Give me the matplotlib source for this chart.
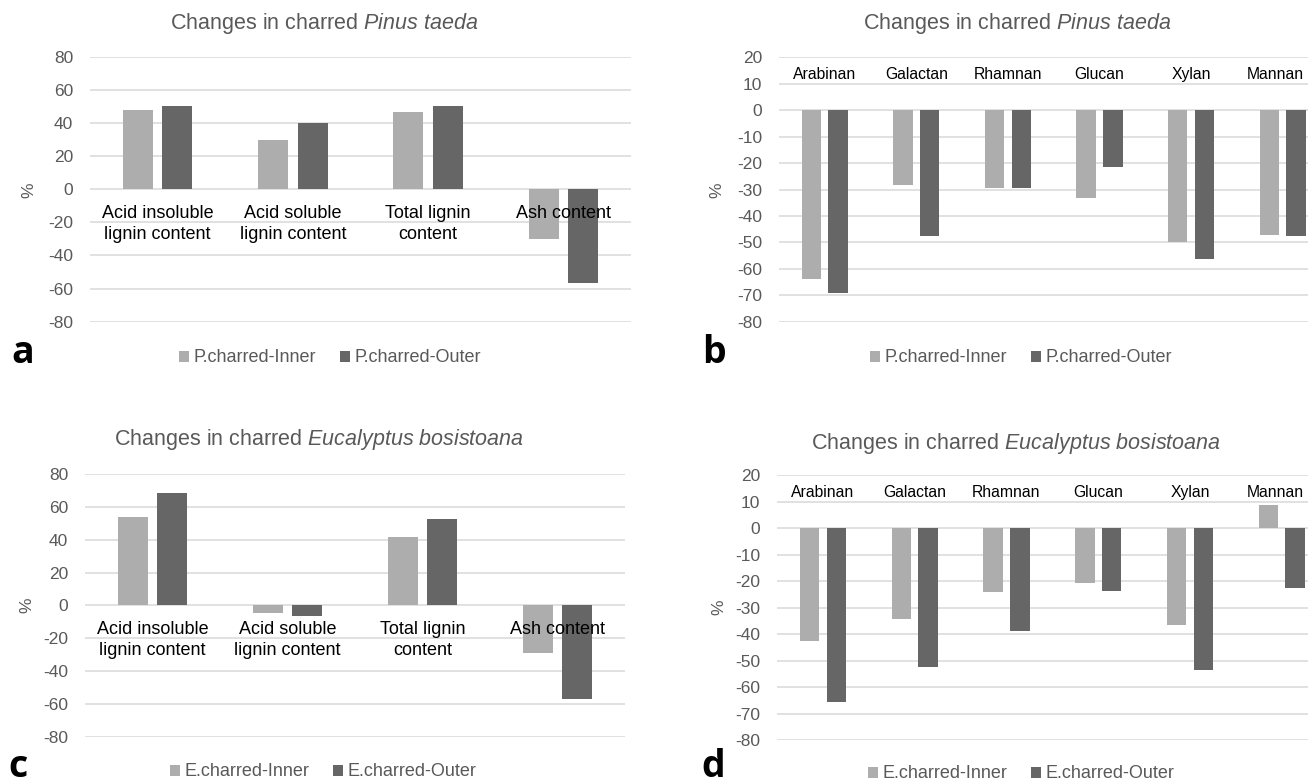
import matplotlib
matplotlib.use('Agg')
import matplotlib.pyplot as plt
import numpy as np

plt.rcParams['font.family'] = ['Liberation Sans', 'DejaVu Sans']
plt.rcParams['mathtext.fontset'] = 'custom'
plt.rcParams['mathtext.rm'] = 'Liberation Sans'
plt.rcParams['mathtext.it'] = 'Liberation Sans:italic'
plt.rcParams['axes.unicode_minus'] = False

# ---------------- data ----------------
lignin_cats = ["Acid insoluble\nlignin content", "Acid soluble\nlignin content",
               "Total lignin\ncontent", "Ash content"]
p_inner_lignin = [48.0, 29.5, 46.5, -30.3]
p_outer_lignin = [50.5, 40.0, 50.0, -56.5]
e_inner_lignin = [53.6, -4.4, 41.4, -28.8]
e_outer_lignin = [68.3, -6.4, 52.3, -57.3]

sugar_cats = ["Arabinan", "Galactan", "Rhamnan", "Glucan", "Xylan", "Mannan"]
p_inner_sugar = [-63.8, -28.3, -29.3, -33.1, -49.7, -47.1]
p_outer_sugar = [-69.3, -47.5, -29.3, -21.5, -56.4, -47.5]
e_inner_sugar = [-42.6, -34.2, -24.0, -20.8, -36.4, 8.6]
e_outer_sugar = [-65.6, -52.3, -39.0, -23.8, -53.5, -22.7]

p_names = ["P.charred-Inner", "P.charred-Outer"]
e_names = ["E.charred-Inner", "E.charred-Outer"]
title_p = r"Changes in charred $\mathit{Pinus\ taeda}$"
title_e = r"Changes in charred $\mathit{Eucalyptus\ bosistoana}$"

# ---------------- style ----------------
W, H = 1308, 784
INNER = '#ADADAD'
OUTER = '#666666'
GRID = '#D9D9D9'
GRAY = '#595959'

fig = plt.figure(figsize=(W / 100, H / 100), dpi=100)
fig.patch.set_facecolor('white')
renderer = fig.canvas.get_renderer()


def rect(x0, x1, y0, y1):
    return [x0 / W, 1 - y1 / H, (x1 - x0) / W, (y1 - y0) / H]


def panel(r, cats, inner, outer, ylim, ystep, width, names, title, title_xy,
          legend_xy, letter, letter_xy, pct_xy, top_labels):
    ax = fig.add_axes(r)
    x = np.arange(len(cats))
    off = 0.146
    b1 = ax.bar(x - off, inner, width, color=INNER, zorder=2)
    b2 = ax.bar(x + off, outer, width, color=OUTER, zorder=2)
    ax.set_xlim(-0.5, len(cats) - 0.5)
    ax.set_ylim(*ylim)
    ax.set_yticks(np.arange(ylim[0], ylim[1] + 1, ystep))
    ax.yaxis.grid(True, color=GRID, lw=1.1)
    ax.set_axisbelow(True)
    for s in ax.spines.values():
        s.set_visible(False)
    ax.set_xticks([])
    ax.tick_params(axis='y', length=0, pad=12, labelsize=12.5, labelcolor=GRAY)
    if top_labels:
        for i, c in enumerate(cats):
            t = ax.annotate(c, (i, 13.5), xytext=(0, 0), textcoords='offset points',
                            ha='center', va='center', fontsize=11.3,
                            color='black', zorder=5)
            # keep the label inside the figure, as the original chart does
            bb = t.get_window_extent(renderer)
            over = bb.x1 - (W - 4)
            if over > 0:
                t.set_position((0, -over * 72 / 100))
                t.xyann = (-over * 72 / 100, 0)
    else:
        for i, c in enumerate(cats):
            ax.annotate(c, (i, 0), xytext=(0, -11.5), textcoords='offset points',
                        ha='center', va='top', fontsize=13, color='black',
                        zorder=5, linespacing=1.3)
    fig.text(title_xy[0] / W, 1 - title_xy[1] / H, title, ha='center',
             va='center', fontsize=15.5, color=GRAY)
    ax.legend([b1, b2], names, loc='center',
              bbox_to_anchor=(legend_xy[0] / W, 1 - legend_xy[1] / H),
              bbox_transform=fig.transFigure, ncol=2, frameon=False,
              fontsize=13, handlelength=0.55, handleheight=0.55,
              handletextpad=0.25, columnspacing=1.3, labelcolor=GRAY)
    fig.text(letter_xy[0] / W, 1 - letter_xy[1] / H, letter, fontsize=27,
             fontweight='bold', family='Open Sans', ha='left', va='baseline')
    fig.text(pct_xy[0] / W, 1 - pct_xy[1] / H, '%', rotation=90, ha='center',
             va='center', fontsize=12.5, color=GRAY)
    return ax


panel(rect(90, 631, 56.7, 321.7), lignin_cats, p_inner_lignin, p_outer_lignin,
      (-80, 80), 20, 0.222, p_names, title_p, (324, 24), (330, 358), 'a',
      (11, 363), (29, 190), False)
panel(rect(778.9, 1328.5, 57.3, 321.7), sugar_cats, p_inner_sugar, p_outer_sugar,
      (-80, 20), 10, 0.213, p_names, title_p, (1017, 24), (1021, 358), 'b',
      (702, 363), (717, 190), True)
panel(rect(85, 625, 474, 736.7), lignin_cats, e_inner_lignin, e_outer_lignin,
      (-80, 80), 20, 0.222, e_names, title_e, (319, 439), (323, 772), 'c',
      (8, 777), (27, 605), False)
panel(rect(777.1, 1327.6, 475.3, 740), sugar_cats, e_inner_sugar, e_outer_sugar,
      (-80, 20), 10, 0.213, e_names, title_e, (1016, 443), (1021, 774), 'd',
      (701, 777), (719, 607), True)

fig.savefig('out.png', dpi=100, facecolor='white')
